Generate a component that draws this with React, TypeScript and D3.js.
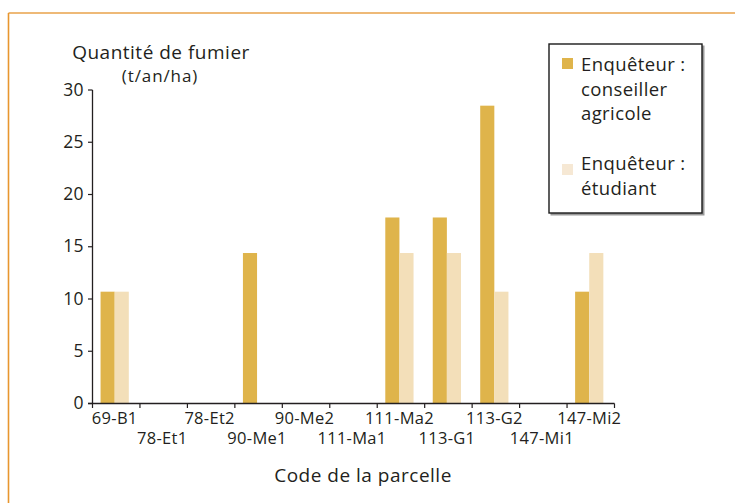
import React from "react";
import * as d3 from "d3";

const categories = ["69-B1", "78-Et1", "78-Et2", "90-Me1", "90-Me2", "111-Ma1", "111-Ma2", "113-G1", "113-G2", "147-Mi1", "147-Mi2"];
const conseiller = [10.7, 0, 0, 14.4, 0, 0, 17.8, 17.8, 28.5, 0, 10.7];
const etudiant = [10.7, 0, 0, 0, 0, 0, 14.4, 14.4, 10.7, 0, 14.4];
const yTicks = [0, 5, 10, 15, 20, 25, 30];
const seriesKeys = ["conseiller", "etudiant"];
const seriesLabels = [["Enquêteur :", "conseiller", "agricole"], ["Enquêteur :", "étudiant"]];
const yTitle = ["Quantité de fumier", "(t/an/ha)"];
const xTitle = "Code de la parcelle";

const W = 735;
const H = 503;
const FONT = "'Open Sans', Lato, sans-serif";
const TEXT = "#231f20";
const C1 = "#dfb44b";
const C2 = "#f3dfb9";
const C2L = "#f6e8d4";

export default function App() {
  const x0 = d3.scaleBand<string>().domain(categories).range([92.5, 614.5]).paddingInner(0).paddingOuter(0);
  const x1 = d3.scaleBand<string>().domain(seriesKeys).range([0, x0.bandwidth()]).paddingInner(0).paddingOuter(0.68).align(0.42);
  const y = d3.scaleLinear().domain([0, 30]).range([403.5, 90]);
  const series = [conseiller, etudiant];
  const colors = [C1, C2];
  const bw = x0.bandwidth();
  const tickXs = categories.map((c) => x0(c) as number).concat([(x0(categories[categories.length - 1]) as number) + bw]);

  return (
    <svg width={W} height={H} style={{ position: "absolute", left: 0, top: 0, background: "#fff", fontVariantLigatures: "none" }} fontFamily={FONT}>
      <rect x={0} y={0} width={W} height={H} fill="#fff" />
      {/* frame */}
      <line x1={8.5} y1={13} x2={W} y2={13} stroke="#e8a24a" strokeWidth={1.6} />
      <line x1={8.5} y1={13} x2={8.5} y2={H} stroke="#e8962e" strokeWidth={1.6} />

      {/* y title */}
      <text x={161} y={58.5} textAnchor="middle" fontSize={19} letterSpacing={0.5} fill={TEXT}>{yTitle[0]}</text>
      <text x={160} y={82} textAnchor="middle" fontSize={17} letterSpacing={0.9} fill={TEXT}>{yTitle[1]}</text>

      {/* bars */}
      {series.map((vals, si) =>
        categories.map((c, i) =>
          vals[i] > 0 ? (
            <rect key={`${si}-${i}`} x={(x0(c) as number) + (x1(seriesKeys[si]) as number)} y={y(vals[i])} width={x1.bandwidth()} height={y(0) - y(vals[i])} fill={colors[si]} />
          ) : null
        )
      )}

      {/* y axis */}
      <line x1={92.5} y1={y(30)} x2={92.5} y2={y(0)} stroke={TEXT} strokeWidth={1.3} />
      {yTicks.map((t) => (
        <g key={t}>
          <line x1={88} x2={92.5} y1={y(t)} y2={y(t)} stroke={TEXT} strokeWidth={1.2} />
          <text x={84} y={y(t) + 5.5} textAnchor="end" fontSize={17.5} letterSpacing={0.4} fill={TEXT}>{t}</text>
        </g>
      ))}

      {/* x axis */}
      <line x1={88} y1={y(0)} x2={tickXs[tickXs.length - 1]} y2={y(0)} stroke={TEXT} strokeWidth={1.3} />
      {tickXs.map((tx, i) => (
        <line key={i} x1={tx} x2={tx} y1={y(0)} y2={y(0) + 4.5} stroke={TEXT} strokeWidth={1.2} />
      ))}
      {categories.map((c, i) => (
        <text key={c} x={(x0(c) as number) + bw / 2 - 1.5} y={i % 2 === 0 ? 423.5 : 444} textAnchor="middle" fontSize={16.5} letterSpacing={0.3} fill={TEXT}>{c}</text>
      ))}

      <text x={363} y={482} textAnchor="middle" fontSize={19} letterSpacing={0.5} fill={TEXT}>{xTitle}</text>

      {/* legend */}
      <rect x={550.5} y={45.5} width={154} height={170} fill="#9a9a9a" />
      <rect x={549} y={44} width={153} height={169} fill="#fff" stroke="#1a1a1a" strokeWidth={1.4} />
      <rect x={562} y={58} width={11} height={11} fill={C1} />
      <rect x={562} y={164} width={11} height={11} fill={C2L} />
      {seriesLabels[0].map((l, i) => (
        <text key={"a" + i} x={581} y={71 + i * 24.5} fontSize={18.5} letterSpacing={0.4} fill={TEXT}>{l}</text>
      ))}
      {seriesLabels[1].map((l, i) => (
        <text key={"b" + i} x={581} y={170 + i * 24.5} fontSize={18.5} letterSpacing={0.4} fill={TEXT}>{l}</text>
      ))}
    </svg>
  );
}
